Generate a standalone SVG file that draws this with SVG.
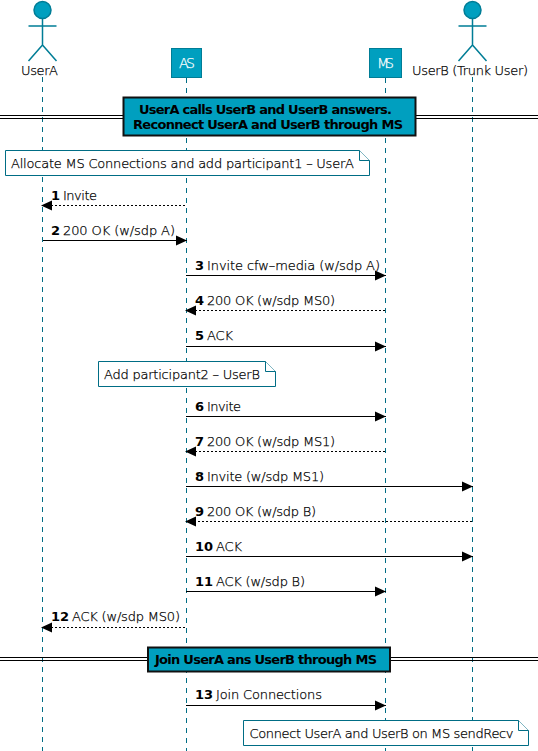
<svg xmlns="http://www.w3.org/2000/svg" width="538" height="751" viewBox="0 0 538 751">
<style>
text{font-family:"DejaVu Sans","DejaVu Sans ExtraLight",sans-serif;font-weight:200;font-size:13px;fill:#000;stroke:#000;stroke-width:.25}
.b{font-family:"DejaVu Sans",sans-serif;font-weight:700;stroke:none}
.life{stroke:#006d85;stroke-width:1;stroke-dasharray:5 5;fill:none}
.act{fill:none;stroke:#007d96;stroke-width:1.5}
.head{fill:#009fbf;stroke:#007d96;stroke-width:1.5}
.box{fill:#009fbf;stroke:#007d96;stroke-width:1}
.w{fill:#fff;stroke:#fff;font-size:14px}
.m{stroke:#000;stroke-width:1;fill:none}
.d{stroke-dasharray:2 2}
.note{fill:#fff;stroke:#006d85;stroke-width:1}
.div{fill:#009fbf;stroke:#111;stroke-width:2}
.dl{stroke:#000;stroke-width:1;fill:none}
</style>
<defs>
<marker id="ah" markerUnits="userSpaceOnUse" markerWidth="12" markerHeight="12" refX="11" refY="6" orient="auto"><path d="M0 1 L11 6 L0 11 Z" fill="#000"/></marker>
</defs>
<g id="lifelines">
<path class="life" d="M42.500 77V751"/><path class="life" d="M186.500 78V751"/><path class="life" d="M385.500 78V751"/><path class="life" d="M472.500 77V751"/>
</g>
<g id="UserA"><circle class="head" cx="42.500" cy="10" r="8.500"/><path class="act" d="M42.500 19V45M28.500 26H56.500M42.500 45L28.500 61M42.500 45L56.500 61"/><text x="21" y="75" textLength="37">UserA</text></g>
<g id="AS"><rect class="box" x="171.500" y="48.500" width="30" height="29"/><text class="w" x="179" y="68" textLength="16">AS</text></g>
<g id="MS"><rect class="box" x="369.500" y="48.500" width="32" height="29"/><text class="w" x="377" y="68" textLength="17">MS</text></g>
<g id="UserB"><circle class="head" cx="472.500" cy="10" r="8.500"/><path class="act" d="M472.500 19V45M458.500 26H486.500M472.500 45L458.500 61M472.500 45L486.500 61"/><text x="412" y="75" textLength="116">UserB (Trunk User)</text></g>
<g id="connectors">
<path class="dl" d="M0 115.500H123M0 118.500H123M416 115.500H538M416 118.500H538M0 657.500H148M0 660.500H148M390 657.500H538M390 660.500H538"/>
<path class="m d" marker-end="url(#ah)" d="M185 205.500H41"/><path class="m" marker-end="url(#ah)" d="M43 240.500H187"/><path class="m" marker-end="url(#ah)" d="M186 275.500H386"/><path class="m d" marker-end="url(#ah)" d="M385 310.500H185"/><path class="m" marker-end="url(#ah)" d="M186 346.500H386"/><path class="m" marker-end="url(#ah)" d="M186 416.500H386"/><path class="m d" marker-end="url(#ah)" d="M385 451.500H185"/><path class="m" marker-end="url(#ah)" d="M186 486.500H473"/><path class="m d" marker-end="url(#ah)" d="M472 521.500H185"/><path class="m" marker-end="url(#ah)" d="M186 556.500H473"/><path class="m" marker-end="url(#ah)" d="M186 591.500H386"/><path class="m d" marker-end="url(#ah)" d="M185 627.500H41"/><path class="m" marker-end="url(#ah)" d="M186 705.500H386"/>
</g>
<g id="m1"><text class="b" x="51" y="200">1</text><text x="63" y="200" textLength="34">Invite</text></g>
<g id="m2"><text class="b" x="51" y="235">2</text><text x="63" y="235" textLength="112">200 OK (w/sdp A)</text></g>
<g id="m3"><text class="b" x="195" y="270">3</text><text x="207" y="270" textLength="173">Invite cfw–media (w/sdp A)</text></g>
<g id="m4"><text class="b" x="195" y="305">4</text><text x="207" y="305" textLength="128">200 OK (w/sdp MS0)</text></g>
<g id="m5"><text class="b" x="195" y="340">5</text><text x="207" y="340" textLength="26">ACK</text></g>
<g id="m6"><text class="b" x="195" y="411">6</text><text x="207" y="411" textLength="34">Invite</text></g>
<g id="m7"><text class="b" x="195" y="446">7</text><text x="207" y="446" textLength="128">200 OK (w/sdp MS1)</text></g>
<g id="m8"><text class="b" x="195" y="481">8</text><text x="207" y="481" textLength="117">Invite (w/sdp MS1)</text></g>
<g id="m9"><text class="b" x="195" y="516">9</text><text x="207" y="516" textLength="109">200 OK (w/sdp B)</text></g>
<g id="m10"><text class="b" x="195" y="551">10</text><text x="216" y="551" textLength="26">ACK</text></g>
<g id="m11"><text class="b" x="195" y="586">11</text><text x="216" y="586" textLength="89">ACK (w/sdp B)</text></g>
<g id="m12"><text class="b" x="51" y="621">12</text><text x="72" y="621" textLength="108">ACK (w/sdp MS0)</text></g>
<g id="m13"><text class="b" x="195" y="699">13</text><text x="216" y="699" textLength="106">Join Connections</text></g>
<g id="divider1"><rect class="div" x="123.500" y="97.500" width="292" height="38"/><text class="b" x="139" y="114" textLength="253">UserA calls UserB and UserB answers.</text><text class="b" x="133" y="129" textLength="270">Reconnect UserA and UserB through MS</text></g>
<g id="divider2"><rect class="div" x="148" y="647.500" width="242" height="24"/><text class="b" x="155" y="664" textLength="222">Join UserA ans UserB through MS</text></g>
<g id="note1"><path class="note" d="M5.500 150.500H359.500L369.500 160.500V175.500H5.500Z"/><path class="note" d="M359.500 150.500V160.500H369.500"/><text x="11" y="168" textLength="343">Allocate MS Connections and add participant1 – UserA</text></g>
<g id="note2"><path class="note" d="M98.500 361.500H265.500L275.500 371.500V386.500H98.500Z"/><path class="note" d="M265.500 361.500V371.500H275.500"/><text x="104" y="379" textLength="156">Add participant2 – UserB</text></g>
<g id="note3"><path class="note" d="M243.500 720.500H518.500L528.500 730.500V745.500H243.500Z"/><path class="note" d="M518.500 720.500V730.500H528.500"/><text x="249.500" y="738" textLength="264">Connect UserA and UserB on MS sendRecv</text></g>
</svg>
